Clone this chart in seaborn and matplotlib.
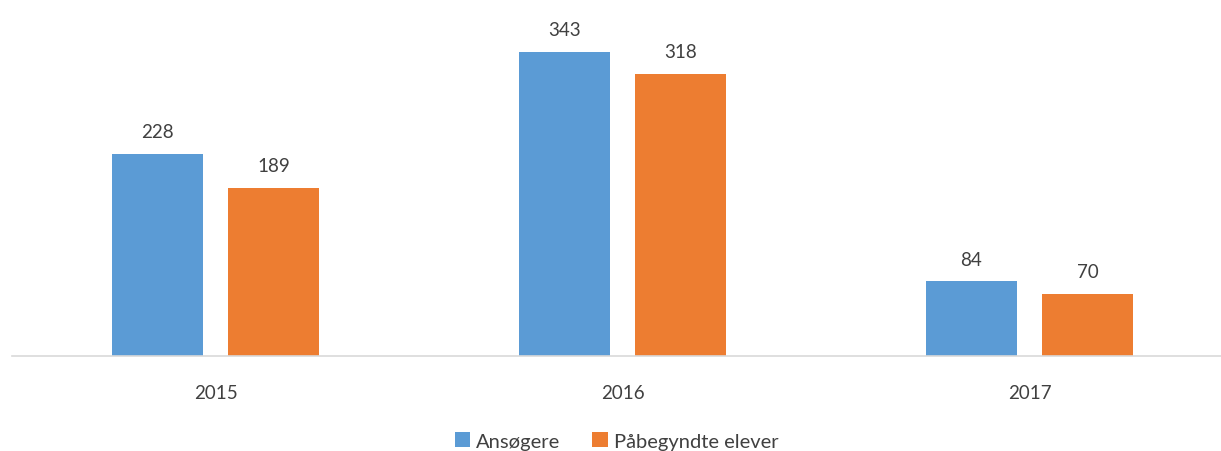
import pandas as pd
import matplotlib.pyplot as plt
import seaborn as sns

# data
years = ["2015", "2016", "2017"]
ansogere = [228, 343, 84]
pabegyndte = [189, 318, 70]
series_names = ["Ansøgere", "Påbegyndte elever"]

df = pd.DataFrame({
    "year": years * 2,
    "value": ansogere + pabegyndte,
    "series": [series_names[0]] * 3 + [series_names[1]] * 3,
})

sns.set_style("white")
plt.rcParams["font.family"] = ["Lato", "DejaVu Sans"]
txt = "#404040"

fig = plt.figure(figsize=(12.21, 4.52), dpi=100)
ax = fig.add_axes([12 / 1221, 95 / 452, 1221 / 1221, 355 / 452])

sns.barplot(data=df, x="year", y="value", hue="series", ax=ax,
            palette=["#5B9BD5", "#ED7D31"], width=0.571, gap=0.21,
            saturation=1, errorbar=None, legend=True, linewidth=0)

for cont in ax.containers:
    ax.bar_label(cont, padding=10, fontsize=13.5, color=txt)

ax.set_ylim(0, 400)
ax.set_xlim(-0.5, 2.5)
ax.set_xlabel("")
ax.set_ylabel("")
ax.set_yticks([])
ax.tick_params(axis="x", length=0, labelsize=13.5, labelcolor=txt, pad=20)
for s in ["top", "right", "left"]:
    ax.spines[s].set_visible(False)
ax.spines["bottom"].set_color("#D9D9D9")
ax.spines["bottom"].set_linewidth(1.2)

ax.legend(loc="lower center", bbox_to_anchor=(0.5 - 6 / 1221, -0.315), ncol=2,
          frameon=False, fontsize=14.5, labelcolor=txt, handlelength=0.75,
          handleheight=0.75, handletextpad=0.3, columnspacing=1.6)

fig.savefig("out.png", dpi=100)
